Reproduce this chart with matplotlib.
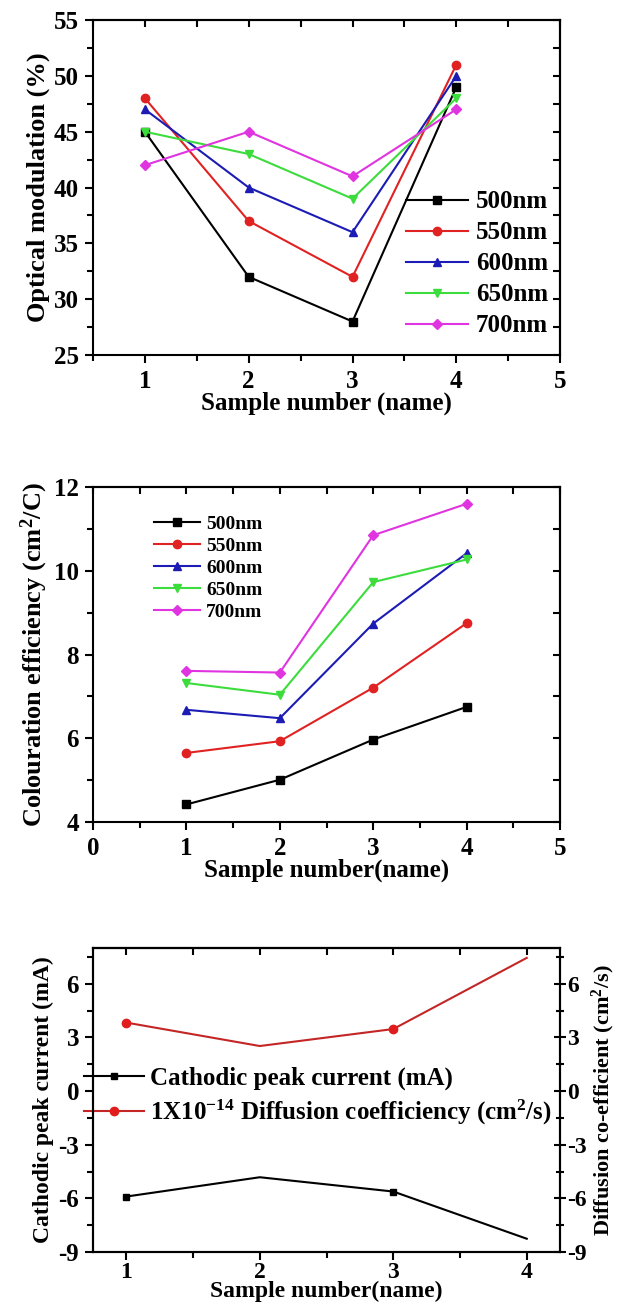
import matplotlib
matplotlib.use('Agg')
import matplotlib.pyplot as plt
from matplotlib.ticker import MultipleLocator

plt.rcParams['font.family'] = 'Liberation Serif'
plt.rcParams['font.weight'] = 'bold'
plt.rcParams['axes.labelweight'] = 'bold'
plt.rcParams['mathtext.default'] = 'regular'
plt.rcParams['axes.unicode_minus'] = False
plt.rcParams['axes.linewidth'] = 1.5

# samples and wavelengths
samples = [1, 2, 3, 4]
wavelengths = ['500nm', '550nm', '600nm', '650nm', '700nm']
colors = ['black', '#e02222', '#1c1cb4', '#3cdc3c', '#e034e0']
markers = ['s', 'o', '^', 'v', 'D']

# optical modulation (%)
om_500 = [45, 32, 28, 49]
om_550 = [48, 37, 32, 51]
om_600 = [47, 40, 36, 50]
om_650 = [45, 43, 39, 48]
om_700 = [42, 45, 41, 47]

# colouration efficiency (cm2/C)
ce_500 = [4.42, 5.01, 5.97, 6.75]
ce_550 = [5.65, 5.93, 7.21, 8.75]
ce_600 = [6.68, 6.48, 8.74, 10.42]
ce_650 = [7.32, 7.04, 9.73, 10.27]
ce_700 = [7.61, 7.57, 10.85, 11.60]

# cathodic peak current (mA) and diffusion coefficient (1e-14 cm2/s)
peak_current = [-5.90, -4.82, -5.62, -8.26]
diffusion = [3.83, 2.52, 3.47, 7.45]

om_data = [om_500, om_550, om_600, om_650, om_700]
ce_data = [ce_500, ce_550, ce_600, ce_650, ce_700]

TICK = 18


def frame(ax, xmaj, xmin, ymaj, ymin, right_ticks=True):
    # ticks out on bottom/left, in on top/right
    ax.xaxis.set_major_locator(MultipleLocator(xmaj))
    ax.xaxis.set_minor_locator(MultipleLocator(xmin))
    ax.yaxis.set_major_locator(MultipleLocator(ymaj))
    ax.yaxis.set_minor_locator(MultipleLocator(ymin))
    ax.tick_params(which='both', direction='out', width=1.5, labelsize=TICK)
    ax.tick_params(which='major', length=6, pad=4)
    ax.tick_params(which='minor', length=4)
    ax.tick_params(axis='x', pad=5)
    top = ax.secondary_xaxis('top')
    top.xaxis.set_major_locator(MultipleLocator(xmaj))
    top.xaxis.set_minor_locator(MultipleLocator(xmin))
    top.tick_params(which='both', direction='in', width=1.5, length=5, labeltop=False)
    if right_ticks:
        rt = ax.secondary_yaxis('right')
        rt.yaxis.set_major_locator(MultipleLocator(ymaj))
        rt.yaxis.set_minor_locator(MultipleLocator(ymin))
        rt.tick_params(which='both', direction='in', width=1.5, length=5, labelright=False)


fig = plt.figure(figsize=(6.22, 13.10), dpi=100)

# --- optical modulation ---
ax1 = fig.add_axes([0.1495, 0.729, 0.751, 0.2557])
for vals, c, m, lab in zip(om_data, colors, markers, wavelengths):
    ax1.plot(samples, vals, color=c, marker=m, ms=6 if m != 'D' else 5,
             lw=1.5, label=lab)
ax1.set_xlim(0.5, 5)
ax1.set_ylim(25, 55)
frame(ax1, 1, 0.5, 5, 2.5)
ax1.set_xticks([1, 2, 3, 4, 5])
ax1.set_xlabel('Sample number (name)', fontsize=18, labelpad=-1)
ax1.set_ylabel('Optical modulation (%)', fontsize=19, labelpad=3)
ax1.legend(loc='center left', bbox_to_anchor=(0.67, 0.272), frameon=False,
           fontsize=18, handlelength=2.5, handletextpad=0.3, labelspacing=0.32,
           borderpad=0, borderaxespad=0)

# --- colouration efficiency ---
ax2 = fig.add_axes([0.1495, 0.3725, 0.751, 0.2557])
for vals, c, m, lab in zip(ce_data, colors, markers, wavelengths):
    ax2.plot(samples, vals, color=c, marker=m, ms=6 if m != 'D' else 5,
             lw=1.5, label=lab)
ax2.set_xlim(0, 5)
ax2.set_ylim(4, 12)
frame(ax2, 1, 0.5, 2, 1)
ax2.set_xlabel('Sample number(name)', fontsize=18, labelpad=-1)
ax2.set_ylabel('Colouration efficiency (cm$^{2}$/C)', fontsize=19, labelpad=3)
ax2.legend(loc='center left', bbox_to_anchor=(0.13, 0.758), frameon=False,
           fontsize=14, handlelength=2.4, handletextpad=0.3, labelspacing=0.22,
           borderpad=0, borderaxespad=0)

# --- peak current and diffusion coefficient ---
ax3 = fig.add_axes([0.1495, 0.0443, 0.751, 0.232])
ax3.plot(samples, peak_current, color='black', marker='s', ms=5, lw=1.5,
         markevery=[0, 2], label='Cathodic peak current (mA)')
ax3.plot(samples, diffusion, color='#c42626', marker='o', ms=6, mfc='#e01c1c',
         mec='#e01c1c', lw=1.5, markevery=[0, 2],
         label='1X10$^{-14}$ Diffusion coefficiency (cm$^{2}$/s)')
ax3.set_xlim(0.75, 4.25)
ax3.set_ylim(-9, 8)
frame(ax3, 1, 0.5, 3, 1.5, right_ticks=False)
ax3.tick_params(axis='x', pad=1, labelsize=17)
ax3.set_xlabel('Sample number(name)', fontsize=17, labelpad=-1)
ax3.set_ylabel('Cathodic peak current (mA)', fontsize=17, labelpad=3)
ax3r = ax3.twinx()
ax3r.set_ylim(-9, 8)
ax3r.yaxis.set_major_locator(MultipleLocator(3))
ax3r.yaxis.set_minor_locator(MultipleLocator(1.5))
ax3r.tick_params(which='both', direction='inout', width=1.5, labelsize=17)
ax3r.tick_params(which='major', length=8, pad=1)
ax3r.tick_params(which='minor', length=6)
ax3r.set_ylabel('Diffusion co-efficient (cm$^{2}$/s)', fontsize=16, labelpad=2)
ax3.legend(loc='center left', bbox_to_anchor=(-0.02, 0.51), frameon=False,
           fontsize=18, handlelength=2.4, handletextpad=0.25, labelspacing=0.3,
           borderpad=0, borderaxespad=0)

plt.savefig('out.png', dpi=100)
